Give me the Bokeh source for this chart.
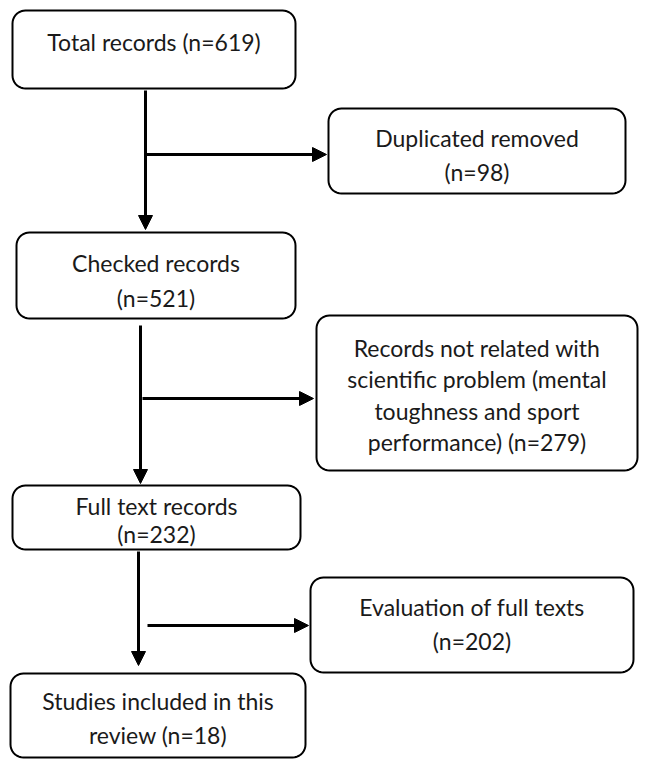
import numpy as np
from bokeh.plotting import figure
from bokeh.models import Range1d, Arrow, NormalHead, ColumnDataSource
from bokeh.core.properties import value
from bokeh.embed import file_html
from bokeh.resources import INLINE

# ---- data: stage labels and record counts ----
stage_labels = ["Total records", "Duplicated removed", "Checked records",
                "Records not related with scientific problem (mental toughness and sport performance)",
                "Full text records", "Evaluation of full texts",
                "Studies included in this review"]
stage_counts = [619, 98, 521, 279, 232, 202, 18]

# text lines for each box (label text as it wraps in the chart)
box_lines = [
    ["Total records (n=619)"],
    ["Duplicated removed", "(n=98)"],
    ["Checked records", "(n=521)"],
    ["Records not related with", "scientific problem (mental", "toughness and sport", "performance) (n=279)"],
    ["Full text records", "(n=232)"],
    ["Evaluation of full texts", "(n=202)"],
    ["Studies included in this", "review (n=18)"],
]

# ---- layout (pixel-like coordinates, y downwards) ----
box_left = [12, 328, 16, 316, 12, 310, 10]
box_right = [295, 625, 295, 637, 300, 633, 305]
box_top = [10, 108, 232, 315, 485, 577, 673]
box_bottom = [88, 193, 318, 470, 549, 672, 757]
line_y = [[41], [137, 171], [262, 297], [347, 378, 410, 441], [505, 533], [606, 640], [700, 734]]

arrow_x0 = [145, 145, 140, 142, 138, 147]
arrow_y0 = [90, 154, 325, 398, 551, 625]
arrow_x1 = [145, 326, 140, 313, 138, 308]
arrow_y1 = [229, 154, 483, 398, 665, 625]

p = figure(width=650, height=760, output_backend="svg", toolbar_location=None,
           x_range=Range1d(0, 650), y_range=Range1d(760, 0),
           min_border=0)
p.axis.visible = False
p.xgrid.visible = False
p.ygrid.visible = False
p.outline_line_color = None
p.background_fill_color = "white"

def rounded(l, r, t, b, rad=13, n=10):
    xs, ys = [], []
    corners = [(r - rad, t + rad, -np.pi / 2, 0), (r - rad, b - rad, 0, np.pi / 2),
               (l + rad, b - rad, np.pi / 2, np.pi), (l + rad, t + rad, np.pi, 1.5 * np.pi)]
    for cx, cy, a0, a1 in corners:
        a = np.linspace(a0, a1, n)
        xs.extend(cx + rad * np.cos(a))
        ys.extend(cy + rad * np.sin(a))
    return xs, ys

pxs, pys = [], []
for l, r, t, b in zip(box_left, box_right, box_top, box_bottom):
    xs, ys = rounded(l, r, t, b)
    pxs.append(xs)
    pys.append(ys)
p.patches(pxs, pys, fill_color="white", line_color="black", line_width=2)

tx, ty, tt = [], [], []
for i, lines in enumerate(box_lines):
    cx = (box_left[i] + box_right[i]) / 2
    for txt, yy in zip(lines, line_y[i]):
        tx.append(cx)
        ty.append(yy)
        tt.append(txt)
src = ColumnDataSource(dict(x=tx, y=ty, text=tt))
p.text(x="x", y="y", text="text", source=src, text_font=value("Lato"),
       text_font_size="23px", text_align="center", text_baseline="middle",
       text_color="#1a1a1a")

for x0, y0, x1, y1 in zip(arrow_x0, arrow_y0, arrow_x1, arrow_y1):
    p.add_layout(Arrow(x_start=x0, y_start=y0, x_end=x1, y_end=y1,
                       line_width=3, line_color="black",
                       end=NormalHead(size=14, fill_color="black", line_color="black", line_width=1)))

open("out.html", "w").write(file_html(p, INLINE))
